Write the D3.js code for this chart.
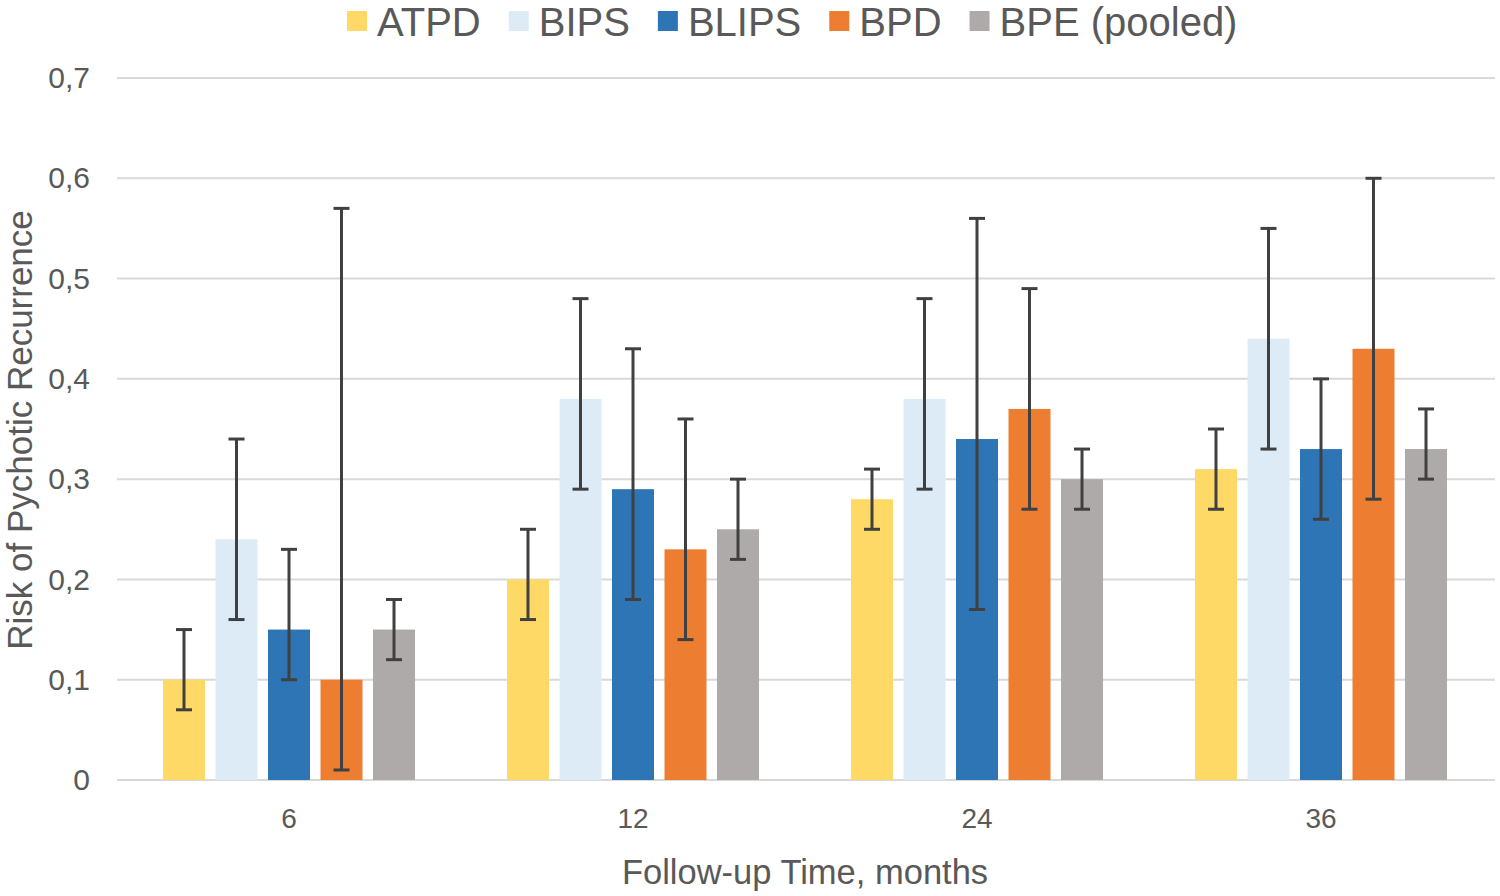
<!doctype html>
<html>
<head>
  <meta charset="utf-8">
  <script src="https://cdnjs.cloudflare.com/ajax/libs/d3/7.8.5/d3.min.js"></script>
  <style>
    body { margin: 0; background: #fff; }
    svg { display: block; font-family: "Liberation Sans", Arial, sans-serif; }
  </style>
</head>
<body>
<svg id="chart" width="1500" height="896"></svg>
<script>
  // follow-up time groups
  var months = ["6", "12", "24", "36"];
  var seriesNames = ["ATPD", "BIPS", "BLIPS", "BPD", "BPE (pooled)"];
  var seriesColors = ["#ffd966", "#ddebf7", "#2e75b6", "#ed7d31", "#aeaaaa"];

  // risk and 95% CI per series, one value per month group
  var atpd  = [0.10, 0.20, 0.28, 0.31];
  var atpdLo = [0.07, 0.16, 0.25, 0.27];
  var atpdHi = [0.15, 0.25, 0.31, 0.35];

  var bips  = [0.24, 0.38, 0.38, 0.44];
  var bipsLo = [0.16, 0.29, 0.29, 0.33];
  var bipsHi = [0.34, 0.48, 0.48, 0.55];

  var blips  = [0.15, 0.29, 0.34, 0.33];
  var blipsLo = [0.10, 0.18, 0.17, 0.26];
  var blipsHi = [0.23, 0.43, 0.56, 0.40];

  var bpd  = [0.10, 0.23, 0.37, 0.43];
  var bpdLo = [0.01, 0.14, 0.27, 0.28];
  var bpdHi = [0.57, 0.36, 0.49, 0.60];

  var bpe  = [0.15, 0.25, 0.30, 0.33];
  var bpeLo = [0.12, 0.22, 0.27, 0.30];
  var bpeHi = [0.18, 0.30, 0.33, 0.37];

  var yTicks = [0, 0.1, 0.2, 0.3, 0.4, 0.5, 0.6, 0.7];

  var values = [atpd, bips, blips, bpd, bpe];
  var lows = [atpdLo, bipsLo, blipsLo, bpdLo, bpeLo];
  var highs = [atpdHi, bipsHi, blipsHi, bpdHi, bpeHi];

  var rows = [];
  months.forEach(function(m, i) {
    seriesNames.forEach(function(s, j) {
      rows.push({month: m, series: s, v: values[j][i], lo: lows[j][i], hi: highs[j][i], color: seriesColors[j]});
    });
  });

  var svg = d3.select("#chart");
  var textColor = "#595959";
  var plotLeft = 117, plotRight = 1493, plotTop = 78, plotBottom = 780;

  var x0 = d3.scaleBand().domain(months).range([plotLeft, plotRight]).paddingInner(0).paddingOuter(0);
  var x1 = d3.scaleBand().domain(seriesNames).range([0, x0.bandwidth()]).paddingInner(0.2).paddingOuter(0.876);
  var y = d3.scaleLinear().domain([0, 0.7]).range([plotBottom, plotTop]);

  // gridlines
  svg.append("g").selectAll("line")
    .data(yTicks)
    .enter().append("line")
    .attr("x1", plotLeft).attr("x2", 1495)
    .attr("y1", function(d) { return y(d); })
    .attr("y2", function(d) { return y(d); })
    .attr("stroke", "#d9d9d9")
    .attr("stroke-width", 2);

  // y axis labels
  var yAxis = d3.axisLeft(y).tickValues(yTicks).tickSize(0).tickPadding(27)
    .tickFormat(function(d) { return d === 0 ? "0" : d3.format(".1f")(d).replace(".", ","); });
  var yg = svg.append("g").attr("transform", "translate(" + plotLeft + ",0)").call(yAxis);
  yg.select(".domain").remove();
  yg.selectAll("text").attr("fill", textColor).style("font-size", "30px")
    .style("font-family", "Liberation Sans, Arial, sans-serif");

  // x axis labels
  var xAxis = d3.axisBottom(x0).tickSize(0).tickPadding(28);
  var xg = svg.append("g").attr("transform", "translate(0," + plotBottom + ")").call(xAxis);
  xg.select(".domain").remove();
  xg.selectAll("text").attr("fill", textColor).style("font-size", "28px")
    .style("font-family", "Liberation Sans, Arial, sans-serif");

  // bars
  svg.append("g").selectAll("rect")
    .data(rows)
    .enter().append("rect")
    .attr("x", function(d) { return x0(d.month) + x1(d.series); })
    .attr("width", x1.bandwidth())
    .attr("y", function(d) { return y(d.v); })
    .attr("height", function(d) { return y(0) - y(d.v); })
    .attr("fill", function(d) { return d.color; });

  // error bars
  var eb = svg.append("g").attr("stroke", "#404040").attr("stroke-width", 3);
  rows.forEach(function(d) {
    var cx = x0(d.month) + x1(d.series) + x1.bandwidth() / 2;
    eb.append("line").attr("x1", cx).attr("x2", cx).attr("y1", y(d.lo)).attr("y2", y(d.hi));
    eb.append("line").attr("x1", cx - 8).attr("x2", cx + 8).attr("y1", y(d.lo)).attr("y2", y(d.lo));
    eb.append("line").attr("x1", cx - 8).attr("x2", cx + 8).attr("y1", y(d.hi)).attr("y2", y(d.hi));
  });

  // axis titles
  svg.append("text")
    .attr("x", 805).attr("y", 884)
    .attr("text-anchor", "middle")
    .attr("fill", textColor)
    .style("font-size", "34.5px")
    .text("Follow-up Time, months");

  svg.append("text")
    .attr("transform", "translate(32,430) rotate(-90)")
    .attr("text-anchor", "middle")
    .attr("fill", textColor)
    .style("font-size", "35px")
    .text("Risk of Pychotic Recurrence");

  // legend
  var legend = svg.append("g");
  var lx = 347;
  seriesNames.forEach(function(s, j) {
    legend.append("rect").attr("x", lx).attr("y", 11).attr("width", 20).attr("height", 20).attr("fill", seriesColors[j]);
    var t = legend.append("text").attr("x", lx + 30).attr("y", 36)
      .attr("fill", textColor).style("font-size", "40px").text(s);
    lx += 30 + t.node().getComputedTextLength() + 28;
  });
</script>
</body>
</html>
